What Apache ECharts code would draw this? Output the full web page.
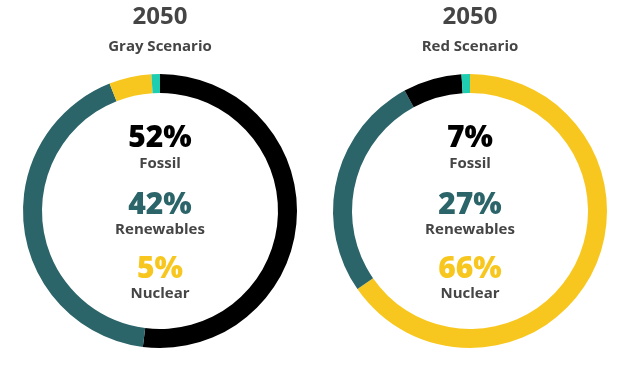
<!DOCTYPE html>
<html>
<head>
<meta charset="utf-8">
<script src="https://cdn.jsdelivr.net/npm/echarts@6/dist/echarts.min.js"></script>
<style>
html,body{margin:0;padding:0;background:#fff;}
#chart{width:619px;height:366px;}
</style>
</head>
<body>
<div id="chart"></div>
<script>
const year = '2050';
const scenarios = ['Gray Scenario', 'Red Scenario'];
const categories = ['Fossil', 'Renewables', 'Nuclear'];
const grayValues = [52, 42, 5];
const redValues = [7, 27, 66];
const otherLabel = 'Other';
const grayOther = 1;
const redOther = 1;
// ring order (clockwise from 12 o'clock)
const grayRingOrder = ['Fossil', 'Renewables', 'Nuclear'];
const redRingOrder = ['Nuclear', 'Renewables', 'Fossil'];

const colors = { Fossil: '#000000', Renewables: '#2b6469', Nuclear: '#f8c71f', Other: '#1fcdb0' };
const textGray = '#454545';
const font = '"Open Sans"';

function ringData(values, order, other) {
  const d = order.map(name => ({ name, value: values[categories.indexOf(name)], itemStyle: { color: colors[name] } }));
  d.push({ name: otherLabel, value: other, itemStyle: { color: colors.Other } });
  return d;
}

const centersX = [160, 470];
const centerY = 211;
const allValues = [grayValues, redValues];

const graphics = [];
scenarios.forEach((s, i) => {
  const cx = centersX[i];
  graphics.push({ type: 'text', x: cx, y: 17, style: { text: year, fill: textGray, font: 'bold 24px ' + font, textAlign: 'center', textVerticalAlign: 'middle' } });
  graphics.push({ type: 'text', x: cx, y: 47, style: { text: s, fill: textGray, font: 'bold 15px ' + font, textAlign: 'center', textVerticalAlign: 'middle' } });
  const pctY = [138, 205, 269];
  const lblY = [164, 230, 294];
  categories.forEach((c, k) => {
    graphics.push({ type: 'text', x: cx, y: pctY[k], style: { text: allValues[i][k] + '%', fill: colors[c], font: '800 30px ' + font, textAlign: 'center', textVerticalAlign: 'middle' } });
    graphics.push({ type: 'text', x: cx, y: lblY[k], style: { text: c, fill: textGray, font: 'bold 15px ' + font, textAlign: 'center', textVerticalAlign: 'middle' } });
  });
});

const chart = echarts.init(document.getElementById('chart'));
chart.setOption({
  animation: false,
  backgroundColor: '#ffffff',
  series: [
    { type: 'pie', center: [centersX[0], centerY], radius: [118, 137], startAngle: 90, clockwise: true, silent: true,
      label: { show: false }, labelLine: { show: false }, emphasis: { disabled: true },
      data: ringData(grayValues, grayRingOrder, grayOther) },
    { type: 'pie', center: [centersX[1], centerY], radius: [118, 137], startAngle: 90, clockwise: true, silent: true,
      label: { show: false }, labelLine: { show: false }, emphasis: { disabled: true },
      data: ringData(redValues, redRingOrder, redOther) }
  ],
  graphic: graphics
});
</script>
</body>
</html>
